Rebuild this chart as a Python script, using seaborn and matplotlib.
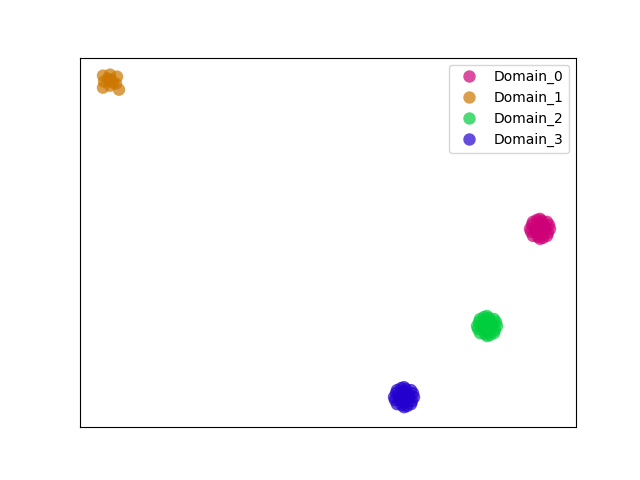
import matplotlib
matplotlib.use("Agg")
import matplotlib.pyplot as plt
import seaborn as sns
import pandas as pd

domains = ["Domain_0", "Domain_1", "Domain_2", "Domain_3"]
colors = ["#ce0077", "#cc7700", "#00ce3d", "#2400ce"]

# embedding coordinates (x, y) per domain
d0_x = [530, 550, 540, 540, 533, 547, 533, 547, 535, 545, 540, 540, 536, 544, 540, 531, 549, 537, 543, 532, 548, 538, 542]
d0_y = [251, 251, 261, 241, 258, 258, 244, 244, 251, 251, 256, 246, 248, 254, 251, 248, 255, 260, 242, 255, 247, 243, 259]
d1_x = [103, 110, 117, 103, 110, 119, 104, 116, 110, 111, 108, 113]
d1_y = [404, 405, 403, 392, 394, 390, 398, 396, 399, 400, 401, 397]
d2_x = [477, 497, 487, 487, 480, 494, 480, 494, 482, 492, 487, 487, 483, 491, 487, 478, 496, 484, 490, 479, 495, 485, 489]
d2_y = [154, 154, 164, 144, 161, 161, 147, 147, 154, 154, 159, 149, 151, 157, 154, 151, 158, 163, 145, 158, 150, 146, 162]
d3_x = [394, 414, 404, 404, 397, 411, 397, 411, 399, 409, 404, 404, 400, 408, 404, 395, 413, 401, 407, 396, 412, 402, 406]
d3_y = [83, 83, 93, 73, 90, 90, 76, 76, 83, 83, 88, 78, 80, 86, 83, 80, 87, 92, 74, 87, 79, 75, 91]

xs = [d0_x, d1_x, d2_x, d3_x]
ys = [d0_y, d1_y, d2_y, d3_y]

rows = []
for name, x, y in zip(domains, xs, ys):
    for a, b in zip(x, y):
        rows.append({"x": a, "y": b, "domain": name})
df = pd.DataFrame(rows)

fig, ax = plt.subplots(figsize=(6.4, 4.8), dpi=100)
sns.scatterplot(data=df, x="x", y="y", hue="domain", hue_order=domains,
                palette=colors, s=80, alpha=0.7, linewidth=0, ax=ax)
ax.set_xlim(80, 576)
ax.set_ylim(53, 422)
ax.set_xticks([])
ax.set_yticks([])
ax.set_xlabel("")
ax.set_ylabel("")
leg = ax.legend(loc="upper right")
for h in leg.legend_handles:
    h.set_alpha(0.7)
fig.savefig("out.png", dpi=100)
